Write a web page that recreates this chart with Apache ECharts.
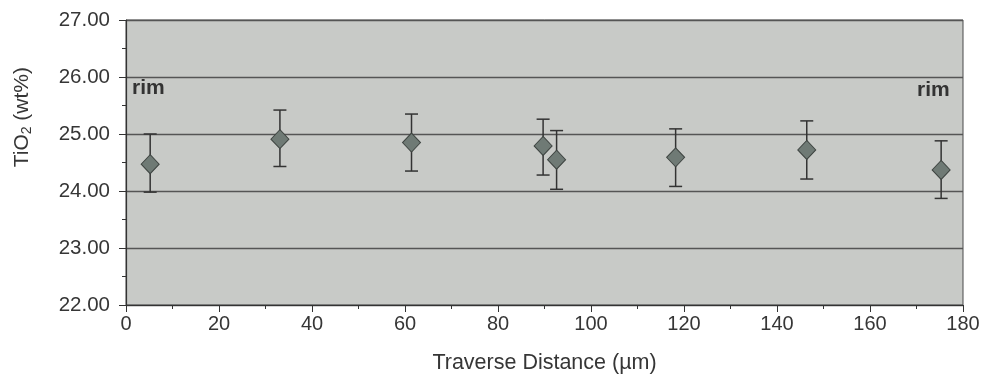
<!DOCTYPE html>
<html>
<head>
<meta charset="utf-8">
<script src="https://cdn.jsdelivr.net/npm/echarts@6/dist/echarts.min.js"></script>
<style>
html,body{margin:0;padding:0;background:#fff;}
#chart{width:992px;height:389px;}
</style>
</head>
<body>
<div id="chart"></div>
<script>
// Data
var distance = [5.2, 33.1, 61.4, 89.7, 92.6, 118.2, 146.4, 175.3];
var tio2     = [24.47, 24.91, 24.85, 24.79, 24.55, 24.59, 24.72, 24.37];
var errLow   = [23.98, 24.43, 24.35, 24.28, 24.03, 24.08, 24.21, 23.87];
var errHigh  = [25.00, 25.42, 25.35, 25.26, 25.06, 25.09, 25.23, 24.88];
var yTicks = [22, 23, 24, 25, 26, 27];
var xName = 'Traverse Distance (µm)';
var rimLabels = ['rim', 'rim'];

var points = distance.map(function (d, i) { return [d, tio2[i]]; });
var errData = distance.map(function (d, i) { return [d, errLow[i], errHigh[i]]; });

var chart = echarts.init(document.getElementById('chart'));
var font = '"Liberation Sans", Arial, sans-serif';
var txt = '#363636';

chart.setOption({
  animation: false,
  grid: {
    left: 126, right: 29, top: 20, bottom: 84,
    show: true, backgroundColor: '#c8cac7', borderColor: '#4a4a4a', borderWidth: 1
  },
  xAxis: {
    type: 'value', min: 0, max: 180, interval: 20,
    name: xName, nameLocation: 'middle', nameGap: 47,
    nameTextStyle: { fontFamily: font, fontSize: 21.5, color: txt },
    axisLine: { show: true, lineStyle: { color: '#333', width: 1.2 } },
    axisTick: { show: true, length: 7, lineStyle: { color: '#333' } },
    minorTick: { show: true, splitNumber: 2, length: 4, lineStyle: { color: '#333' } },
    splitLine: { show: false },
    axisLabel: { fontFamily: font, fontSize: 20, color: txt, margin: 9 }
  },
  yAxis: {
    type: 'value', min: yTicks[0], max: yTicks[yTicks.length - 1], interval: 1,
    axisLine: { show: true, lineStyle: { color: '#333', width: 1.2 } },
    axisTick: { show: true, length: 7, lineStyle: { color: '#333' } },
    minorTick: { show: true, splitNumber: 2, length: 4, lineStyle: { color: '#333' } },
    splitLine: { show: true, lineStyle: { color: '#555', width: 1.4 } },
    axisLabel: { fontFamily: font, fontSize: 20.5, color: txt, margin: 16,
      formatter: function (v) { return v.toFixed(2); } }
  },
  graphic: [
    { type: 'text', left: 12, top: 67, rotation: Math.PI / 2, originX: 0, originY: 0,
      style: { text: 'TiO{s|2} (wt%)', fontFamily: font, fontSize: 21, fill: txt,
        textAlign: 'center', textVerticalAlign: 'middle',
        rich: { s: { fontSize: 14, fill: txt, padding: [9, 0, 0, 0], fontFamily: font } } } },
    { type: 'text', left: 132, top: 78,
      style: { text: rimLabels[0], fontFamily: font, fontSize: 21, fontWeight: 'bold', fill: '#333' } },
    { type: 'text', left: 917, top: 80,
      style: { text: rimLabels[1], fontFamily: font, fontSize: 21, fontWeight: 'bold', fill: '#333' } }
  ],
  series: [
    {
      type: 'custom',
      data: errData,
      z: 3,
      renderItem: function (params, api) {
        var x = api.value(0);
        var lo = api.coord([x, api.value(1)]);
        var hi = api.coord([x, api.value(2)]);
        var cap = 6.5;
        var st = { stroke: '#333', lineWidth: 1.5 };
        return {
          type: 'group',
          children: [
            { type: 'line', shape: { x1: lo[0], y1: lo[1], x2: hi[0], y2: hi[1] }, style: st },
            { type: 'line', shape: { x1: lo[0] - cap, y1: lo[1], x2: lo[0] + cap, y2: lo[1] }, style: st },
            { type: 'line', shape: { x1: hi[0] - cap, y1: hi[1], x2: hi[0] + cap, y2: hi[1] }, style: st }
          ]
        };
      }
    },
    {
      type: 'scatter',
      data: points,
      symbol: 'diamond',
      symbolSize: [18, 19],
      z: 4,
      itemStyle: { color: '#6f7a75', borderColor: '#3f4542', borderWidth: 1, opacity: 1 }
    }
  ]
});
</script>
</body>
</html>
